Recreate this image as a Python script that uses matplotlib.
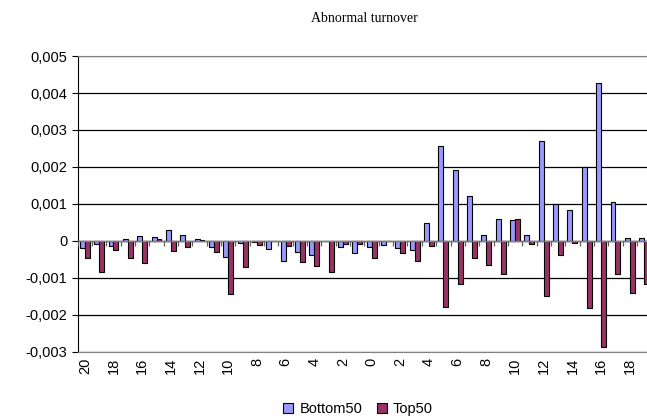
import numpy as np
import matplotlib
matplotlib.use("Agg")
import matplotlib.pyplot as plt
from matplotlib.ticker import FuncFormatter

# event days -20 .. 19
days = list(range(-20, 20))

bottom50 = [-0.00018, -0.00007, -0.00013, 0.00006, 0.00013, 0.00011, 0.00031, 0.00015,
            0.00006, -0.00015, -0.00043, -0.00006, -0.00004, -0.00022, -0.00053, -0.00031,
            -0.00038, 0.0, -0.00017, -0.00032, -0.00015, -0.00012, -0.00020, -0.00024,
            0.00049, 0.00258, 0.00193, 0.00122, 0.00015, 0.00060, 0.00056, 0.00015,
            0.00271, 0.00100, 0.00084, 0.00200, 0.00427, 0.00106, 0.00009, 0.00009]

top50 = [-0.00047, -0.00085, -0.00025, -0.00047, -0.00060, 0.00005, -0.00028, -0.00016,
         0.00002, -0.00030, -0.00142, -0.00069, -0.00010, -0.00001, -0.00014, -0.00056,
         -0.00068, -0.00085, -0.00008, -0.00008, -0.00047, 0.0, -0.00033, -0.00054,
         -0.00014, -0.00179, -0.00116, -0.00047, -0.00066, -0.00088, 0.00060, -0.00009,
         -0.00150, -0.00038, -0.00006, -0.00181, -0.00287, -0.00088, -0.00141, -0.00117]

yticks = [-0.003, -0.002, -0.001, 0, 0.001, 0.002, 0.003, 0.004, 0.005]

plt.rcParams['font.family'] = ['Liberation Sans', 'DejaVu Sans']

fig = plt.figure(figsize=(6.47, 4.18), dpi=100)
ax = fig.add_axes([0.120, 0.158, 0.880, 0.708])

x = np.arange(len(days))
w = 0.345
ax.bar(x - w / 2, bottom50, w, color='#9999FF', edgecolor='black', linewidth=0.8,
       label='Bottom50', zorder=3)
ax.bar(x + w / 2, top50, w, color='#993366', edgecolor='black', linewidth=0.8,
       label='Top50', zorder=3)

ax.set_xlim(-0.5, 39.2)
ax.set_ylim(-0.003, 0.005)
ax.set_yticks(yticks)
ax.yaxis.set_major_formatter(FuncFormatter(lambda v, p: ('%.3f' % v).replace('.', ',') if v != 0 else '0'))
ax.yaxis.grid(True, color='black', linewidth=0.9, zorder=0)
ax.tick_params(axis='y', labelsize=10.5, length=4, width=0.8)

# category labels at the bottom, every other day
ax.set_xticks(x[::2])
ax.set_xticklabels([str(abs(d)) for d in days[::2]], rotation=90, fontsize=10.5)
ax.tick_params(axis='x', length=0, pad=4)

# category axis at zero with tick marks between categories
ax.axhline(0, color='#808080', linewidth=1.0, zorder=4)
bounds = np.arange(len(days) + 1) - 0.5
ax.vlines(bounds, -0.000135, 0, color='#606060', linewidth=0.9, zorder=4)

for s in ['right']:
    ax.spines[s].set_visible(False)
ax.spines['top'].set_color('#808080')
ax.spines['bottom'].set_color('#808080')
ax.spines['left'].set_color('black')

fig.text(364 / 647, 1 - 18 / 418, 'Abnormal turnover', ha='center', va='center',
         fontsize=10, family=['Liberation Serif', 'DejaVu Serif'])

fig.legend(loc='center', bbox_to_anchor=(358 / 647, 1 - 409 / 418), ncol=2, frameon=False,
           fontsize=10.5, handlelength=0.7, handleheight=0.7, handletextpad=0.4,
           columnspacing=1.0)

fig.savefig('out.png', dpi=100)
